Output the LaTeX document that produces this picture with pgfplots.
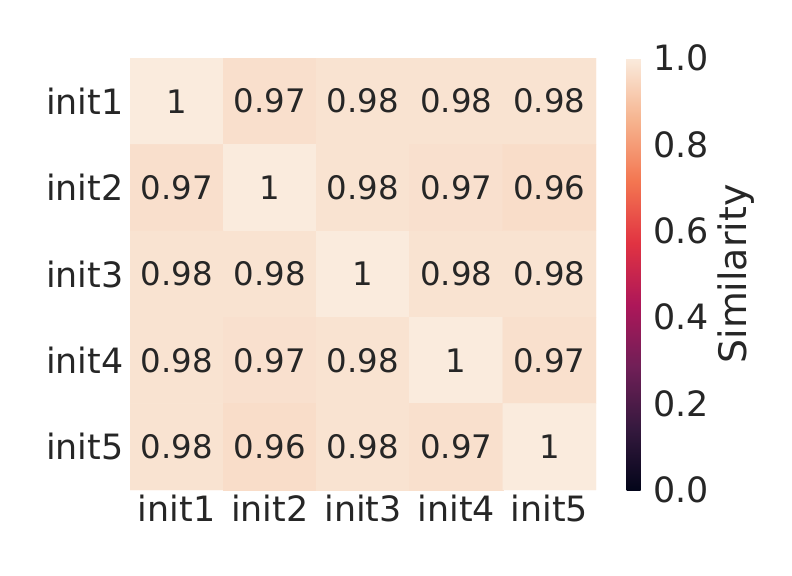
\documentclass[border=0pt]{standalone}
\usepackage{pgfplots}
\pgfplotsset{compat=1.18}
\usepackage{fontspec}
\setmainfont{DejaVu Sans}
\definecolor{txt}{HTML}{262626}
\pgfplotsset{colormap={rocket}{rgb255=(3,5,26) rgb255=(53,25,62) rgb255=(112,31,87) rgb255=(173,23,89) rgb255=(225,51,66) rgb255=(243,118,81) rgb255=(246,180,143) rgb255=(250,235,221)}}
\begin{document}
\begin{tikzpicture}
\useasboundingbox (0,0) rectangle (792bp,576bp);
\begin{axis}[
  at={(130bp,86bp)}, anchor=south west,
  scale only axis, width=466bp, height=432bp,
  y dir=reverse,
  xmin=-0.5, xmax=4.5, ymin=-0.5, ymax=4.5,
  xtick={0,...,4}, ytick={0,...,4},
  xticklabels={init1,init2,init3,init4,init5},
  yticklabels={init1,init2,init3,init4,init5},
  major tick length=0pt,
  axis line style={draw=none},
  ticklabel style={font=\fontsize{35}{42}\selectfont, text=txt},
  xticklabel style={yshift=-1bp},
  yticklabel style={xshift=-3bp},
  colormap name=rocket,
  point meta min=0, point meta max=1,
  colorbar,
  colorbar style={
    at={(parent axis.north east)}, anchor=north west, xshift=22bp,
    scale only axis, width=19bp, height=432bp,
    ytick={0,0.2,...,1},
    major tick length=0pt,
    axis line style={draw=none},
    yticklabel style={font=\fontsize{35}{42}\selectfont, text=txt, xshift=4bp, /pgf/number format/fixed, /pgf/number format/fixed zerofill, /pgf/number format/precision=1, /pgf/number format/assume math mode=true},
    ylabel={Similarity},
    ylabel style={font=\fontsize{38}{44}\selectfont, text=txt, yshift=-2bp},
  },
  /pgf/number format/assume math mode=true,
]
\addplot[matrix plot*, mesh/cols=5, point meta=explicit] table[meta=c] {
x y c
0 0 1
1 0 0.968
2 0 0.978
3 0 0.978
4 0 0.978
0 1 0.968
1 1 1
2 1 0.978
3 1 0.972
4 1 0.962
0 2 0.978
1 2 0.978
2 2 1
3 2 0.978
4 2 0.978
0 3 0.978
1 3 0.972
2 3 0.978
3 3 1
4 3 0.970
0 4 0.978
1 4 0.962
2 4 0.978
3 4 0.970
4 4 1
};
\addplot[only marks, mark=none, point meta=explicit symbolic, nodes near coords, nodes near coords align={center}, nodes near coords style={font=\fontsize{32.5}{38}\selectfont, text=txt}] table[meta=l] {
x y l
0 0 1
1 0 0.97
2 0 0.98
3 0 0.98
4 0 0.98
0 1 0.97
1 1 1
2 1 0.98
3 1 0.97
4 1 0.96
0 2 0.98
1 2 0.98
2 2 1
3 2 0.98
4 2 0.98
0 3 0.98
1 3 0.97
2 3 0.98
3 3 1
4 3 0.97
0 4 0.98
1 4 0.96
2 4 0.98
3 4 0.97
4 4 1
};
\end{axis}
\end{tikzpicture}
\end{document}
